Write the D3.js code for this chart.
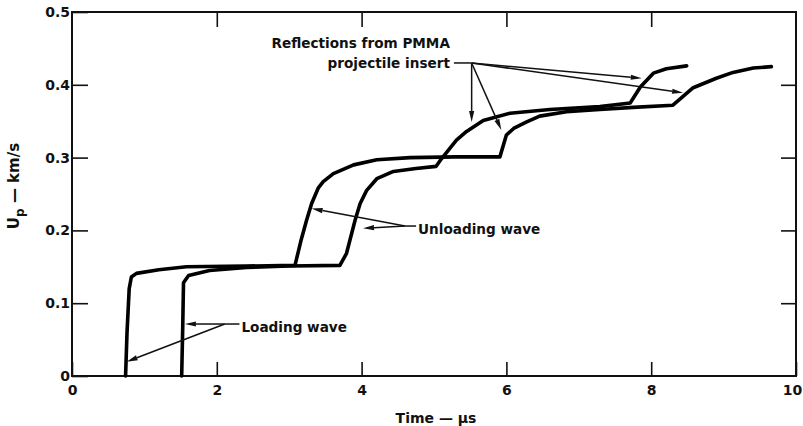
<!DOCTYPE html>
<html>
<head>
<meta charset="utf-8">
<script src="https://cdn.jsdelivr.net/npm/d3@7"></script>
<style>
  body { margin: 0; background: #fff; }
  svg { display: block; }
  text { font-family: "DejaVu Sans", sans-serif; font-weight: 700; fill: #111; }
</style>
</head>
<body>
<div id="chart"></div>
<script>
// Time (us) and particle velocity (km/s)
const earlyTime = [0.74, 0.76, 0.79, 0.82, 0.89, 1.2, 1.58, 2.4, 3.08, 3.16, 3.24, 3.31, 3.40, 3.47, 3.61, 3.89, 4.21, 4.67, 5.3, 5.91, 6.0, 6.1, 6.28, 6.46, 6.83, 7.29, 7.75, 8.3, 8.44, 8.58, 8.9, 9.13, 9.41, 9.66];
const earlyUp   = [0, 0.06, 0.12, 0.136, 0.141, 0.146, 0.150, 0.151, 0.152, 0.185, 0.214, 0.237, 0.258, 0.267, 0.278, 0.290, 0.297, 0.300, 0.301, 0.301, 0.331, 0.340, 0.349, 0.357, 0.363, 0.366, 0.369, 0.372, 0.384, 0.396, 0.409, 0.417, 0.423, 0.425];

const lateTime = [1.515, 1.53, 1.54, 1.61, 1.9, 2.41, 3.0, 3.70, 3.79, 3.91, 3.98, 4.07, 4.21, 4.44, 4.75, 5.03, 5.10, 5.18, 5.31, 5.45, 5.68, 6.05, 6.6, 7.29, 7.71, 7.85, 8.03, 8.21, 8.49];
const lateUp   = [0, 0.07, 0.128, 0.138, 0.145, 0.149, 0.151, 0.152, 0.168, 0.214, 0.237, 0.255, 0.271, 0.281, 0.285, 0.288, 0.298, 0.308, 0.324, 0.336, 0.351, 0.361, 0.366, 0.370, 0.375, 0.397, 0.416, 0.422, 0.426];

const xTicks = [0, 2, 4, 6, 8, 10];
const yTicks = [0, 0.1, 0.2, 0.3, 0.4, 0.5];

// annotations: label lines, where the label sits, where the arrows start and end (data units)
const reflectText = ["Reflections from PMMA", "projectile insert"];
const reflectAt = [5.22, 0.457];
const reflectFrom = [5.52, 0.43];
const reflectTips = [[5.52, 0.349], [5.93, 0.338], [7.87, 0.409], [8.44, 0.389]];

const unloadText = "Unloading wave";
const unloadAt = [4.78, 0.202];
const unloadFrom = [4.60, 0.206];
const unloadTips = [[3.31, 0.230], [4.02, 0.203]];

const loadText = "Loading wave";
const loadAt = [2.34, 0.0677];
const loadFrom = [2.11, 0.0714];
const loadTips = [[1.56, 0.0714], [0.755, 0.0196]];

const width = 803, height = 426;
const margin = { top: 12, right: 7, bottom: 50, left: 72 };

const svg = d3.select("#chart").append("svg")
  .attr("width", width).attr("height", height);

const x = d3.scaleLinear().domain([0, 10]).range([margin.left, width - margin.right]);
const y = d3.scaleLinear().domain([0, 0.5]).range([height - margin.bottom, margin.top]);

const fmt = (d) => (d === 0 ? "0" : d3.format(".1f")(d));

// axes with inward ticks on all four sides
const gx = svg.append("g")
  .attr("transform", `translate(0,${y(0)})`)
  .call(d3.axisBottom(x).tickValues(xTicks).tickSize(-14).tickPadding(9).tickFormat(d3.format("d")));
const gy = svg.append("g")
  .attr("transform", `translate(${x(0)},0)`)
  .call(d3.axisLeft(y).tickValues(yTicks).tickSize(-16).tickPadding(2).tickFormat(fmt));
const gt = svg.append("g")
  .attr("transform", `translate(0,${y(0.5)})`)
  .call(d3.axisTop(x).tickValues([2, 4, 6, 8]).tickSize(-15).tickFormat(""));
const gr = svg.append("g")
  .attr("transform", `translate(${x(10)},0)`)
  .call(d3.axisRight(y).tickValues([0.1, 0.2, 0.3, 0.4]).tickSize(-15).tickFormat(""));

[gx, gy, gt, gr].forEach((g) => {
  g.select(".domain").remove();
  g.selectAll(".tick line").attr("stroke", "#111").attr("stroke-width", 1.6);
  g.selectAll(".tick text").style("font-size", "14px").attr("fill", "#111");
});
// keep the last x label inside the page
gx.selectAll(".tick text").filter((d) => d === 10).attr("dx", -4);

svg.append("rect")
  .attr("x", x(0)).attr("y", y(0.5))
  .attr("width", x(10) - x(0)).attr("height", y(0) - y(0.5))
  .attr("fill", "none").attr("stroke", "#111").attr("stroke-width", 2);

// axis titles
svg.append("text")
  .attr("x", (x(0) + x(10)) / 2 + 2).attr("y", 423)
  .attr("text-anchor", "middle")
  .style("font-size", "14px")
  .text("Time — μs");

const yTitle = svg.append("text")
  .attr("transform", `translate(19,${(y(0) + y(0.5)) / 2 - 8}) rotate(-90)`)
  .attr("text-anchor", "middle")
  .style("font-size", "15px");
yTitle.append("tspan").text("U");
yTitle.append("tspan").attr("dy", 5).style("font-size", "12px").text("p");
yTitle.append("tspan").attr("dy", -5).text(" — km/s");

// the two records
const line = d3.line().x((d) => x(d[0])).y((d) => y(d[1]));
const series = [d3.zip(earlyTime, earlyUp), d3.zip(lateTime, lateUp)];

svg.selectAll("path.record")
  .data(series)
  .join("path")
  .attr("class", "record")
  .attr("d", line)
  .attr("fill", "none")
  .attr("stroke", "#000")
  .attr("stroke-width", 3.6)
  .attr("stroke-linejoin", "round")
  .attr("stroke-linecap", "round");

// arrows drawn in pixel space from the scaled points
const arrow = (from, tip) => {
  const x0 = x(from[0]), y0 = y(from[1]);
  const x1 = x(tip[0]), y1 = y(tip[1]);
  const a = Math.atan2(y1 - y0, x1 - x0);
  const len = 11, half = 2.6;
  const bx = x1 - len * Math.cos(a), by = y1 - len * Math.sin(a);
  svg.append("line")
    .attr("x1", x0).attr("y1", y0).attr("x2", bx).attr("y2", by)
    .attr("stroke", "#111").attr("stroke-width", 1.5);
  svg.append("path")
    .attr("d", d3.line()([
      [x1, y1],
      [bx - half * Math.sin(a), by + half * Math.cos(a)],
      [bx + half * Math.sin(a), by - half * Math.cos(a)],
    ]) + "Z")
    .attr("fill", "#111");
};

const leader = (from, at) => {
  svg.append("line")
    .attr("x1", x(from[0])).attr("y1", y(from[1]))
    .attr("x2", x(at[0]) - 2).attr("y2", y(from[1]))
    .attr("stroke", "#111").attr("stroke-width", 1.5);
};

// reflections label (right aligned, two lines)
svg.append("text")
  .attr("text-anchor", "end")
  .style("font-size", "13.6px")
  .selectAll("tspan")
  .data(reflectText)
  .join("tspan")
  .attr("x", x(reflectAt[0]))
  .attr("y", (d, i) => y(reflectAt[1]) + 5 + i * 20)
  .text((d) => d);
svg.append("line")
  .attr("x1", x(reflectAt[0]) + 4).attr("y1", y(reflectFrom[1]))
  .attr("x2", x(reflectFrom[0])).attr("y2", y(reflectFrom[1]))
  .attr("stroke", "#111").attr("stroke-width", 1.5);
reflectTips.forEach((t) => arrow(reflectFrom, t));

// unloading
svg.append("text")
  .attr("x", x(unloadAt[0])).attr("y", y(unloadAt[1]) + 5)
  .style("font-size", "13.6px")
  .text(unloadText);
leader(unloadFrom, unloadAt);
unloadTips.forEach((t) => arrow(unloadFrom, t));

// loading
svg.append("text")
  .attr("x", x(loadAt[0])).attr("y", y(loadAt[1]) + 5)
  .style("font-size", "13.6px")
  .text(loadText);
leader(loadFrom, loadAt);
loadTips.forEach((t) => arrow(loadFrom, t));
</script>
</body>
</html>
